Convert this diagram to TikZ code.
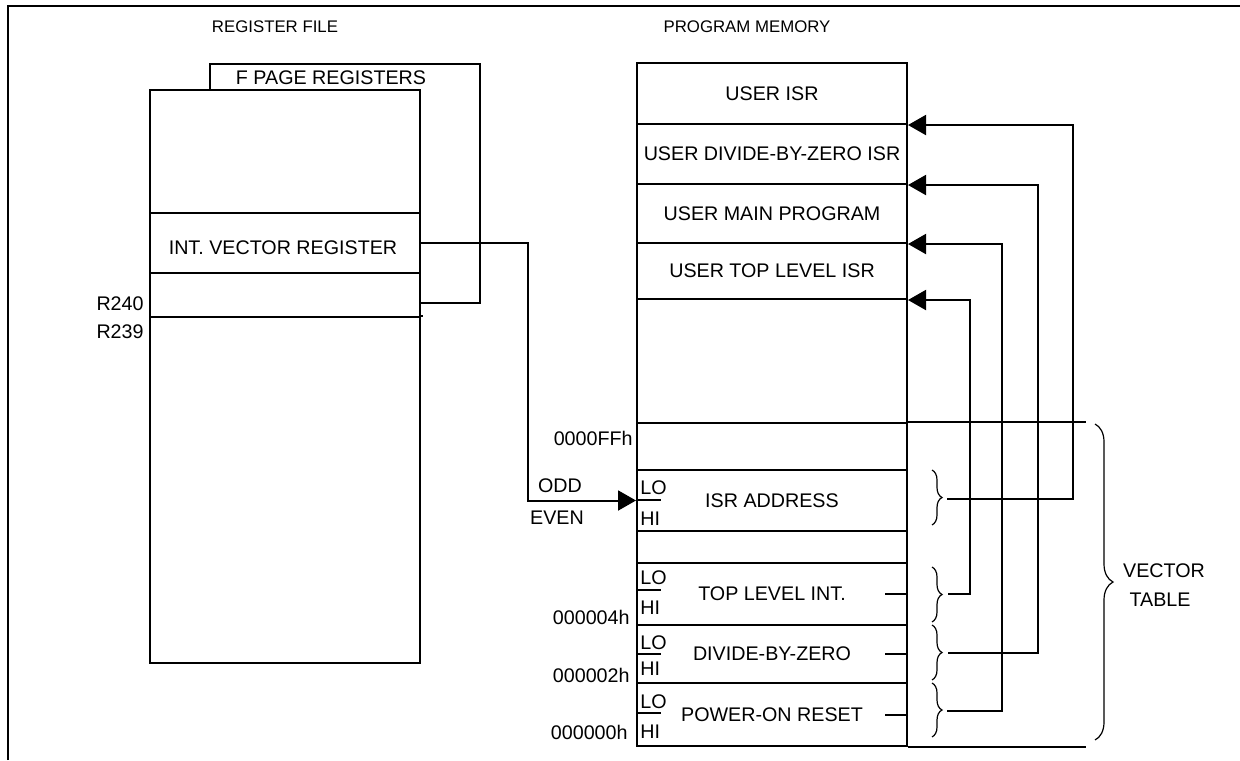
\documentclass[tikz,border=0pt]{standalone}
\usepackage{fontspec}
\setmainfont{Liberation Sans}
\usetikzlibrary{arrows.meta,decorations.pathreplacing,calc}
\begin{document}
\begin{tikzpicture}[x=0.5pt,y=-0.5pt,
  cell/.style={draw,line width=1pt,fill=white,minimum width=135pt,inner sep=0pt,font=\fontsize{9.85}{11}\selectfont},
  txt/.style={inner sep=0pt,font=\fontsize{9.85}{11}\selectfont},
  ttl/.style={inner sep=0pt,font=\fontsize{8.4}{10}\selectfont},
  conn/.style={line width=1pt},
  arr/.style={conn,-{Triangle[length=9pt,width=10pt]}},
  brc/.style={decorate,decoration={brace,amplitude=5pt},line width=0.6pt},
  bigbrc/.style={decorate,decoration={brace,amplitude=9pt},line width=0.6pt},
]
\useasboundingbox (0,0) rectangle (1240,760);
% frame
\draw[line width=1.3pt] (8,760) -- (8,6) -- (1240,6);
% titles
\node[ttl] (t1) at (275,27) {REGISTER FILE};
\node[ttl] (t2) at (747,27) {PROGRAM MEMORY};
% register file
\node[draw,line width=1pt,minimum width=135pt,minimum height=119.5pt,inner sep=0pt] (fpg) at (345,183.5) {};
\node[txt] (fpgl) at (331,78) {F PAGE REGISTERS};
\node[cell,minimum height=61.5pt] (g1) at (285,151.5) {};
\node[cell,minimum height=30pt] (g2) at (285,243) {};
\node[txt] (ivr) at (283,248) {INT. VECTOR REGISTER};
\node[cell,minimum height=22pt] (g3) at (285,295) {};
\node[cell,minimum height=173pt] (g4) at (285,490) {};
\node[txt,anchor=east] (r240) at (144,304) {R240};
\node[txt,anchor=east] (r239) at (144,332) {R239};
% program memory
\node[cell,minimum height=30.5pt] (r1) at (772,93.5) {USER ISR};
\node[cell,minimum height=30pt] (r2) at (772,154) {USER DIVIDE-BY-ZERO ISR};
\node[cell,minimum height=29.5pt] (r3) at (772,213.5) {USER MAIN PROGRAM};
\node[cell,minimum height=28pt] (r4) at (772,271) {USER TOP LEVEL ISR};
\node[cell,minimum height=62pt] (r5) at (772,361) {};
\node[cell,minimum height=23.5pt] (r6) at (772,446.5) {};
\node[cell,minimum height=30.5pt] (r7) at (772,500.5) {ISR ADDRESS};
\node[cell,minimum height=16pt] (r8) at (772,547) {};
\node[cell,minimum height=31pt] (r9) at (772,594) {TOP LEVEL INT.};
\node[cell,minimum height=29pt] (r10) at (772,654) {DIVIDE-BY-ZERO};
\node[cell,minimum height=31.5pt] (r11) at (772,714.5) {POWER-ON RESET};
% LO / HI
\foreach \n/\lo/\s/\hi in {a/488/500/519, b/578/590/608, c/643/654/669, d/702/713/732}{
  \node[txt,anchor=west] (lo\n) at (640,\lo) {LO};
  \node[txt,anchor=west] (hi\n) at (640,\hi) {HI};
  \draw[conn] (637,\s) -- (661,\s);
}
% address labels
\node[txt,anchor=east] (aff) at (633,438) {0000FFh};
\node[txt] (odd) at (560,486) {ODD};
\node[txt] (even) at (557,518) {EVEN};
\node[txt,anchor=east] (a4) at (630,617) {000004h};
\node[txt,anchor=east] (a2) at (630,675) {000002h};
\node[txt,anchor=east] (a0) at (628,732) {000000h};
% extension lines
\draw[conn] (r6.north east) -- ++(178,0);
\draw[conn] (r11.south east) -- ++(178,0);
\draw[conn] (g4.north east) -- ++(2,0);
% short lines in vector rows
\draw[conn] (r9.east) -- ++(-23,0);
\draw[conn] (r10.east) -- ++(-23,0);
\draw[conn] (r11.east) -- ++(-23,0);
% braces
\draw[brc] (932,470) -- (932,525);
\draw[brc] (932,567) -- (932,622);
\draw[brc] (932,625) -- (932,680);
\draw[brc] (932,683) -- (932,737);
\coordinate (bt1) at (947,499);
\coordinate (bt2) at (948,594);
\coordinate (bt3) at (948,653);
\coordinate (bt4) at (947,711);
\draw[bigbrc] (1095,424) -- (1095,740);
\node[txt] (vec) at (1164,571) {VECTOR};
\node[txt] (tab) at (1160,600) {TABLE};
% connectors
\draw[arr] (g2.east) -- ++(107,0) |- (r7.west);
\draw[arr] (bt1) -- ++(126,0) |- (r1.south east);
\draw[arr] (bt2) -- ++(22,0) |- (r4.south east);
\draw[arr] (bt3) -- ++(90,0) |- (r2.south east);
\draw[arr] (bt4) -- ++(55,0) |- (r3.south east);
\end{tikzpicture}
\end{document}
